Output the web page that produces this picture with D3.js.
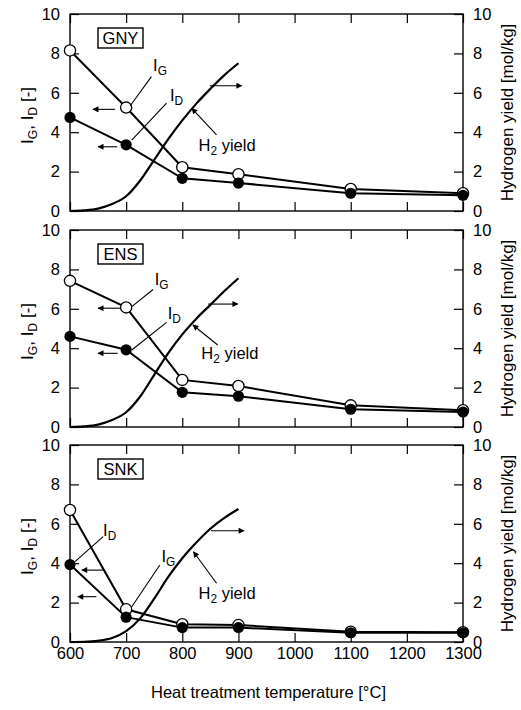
<!DOCTYPE html>
<html>
<head>
<meta charset="utf-8">
<script src="https://cdn.jsdelivr.net/npm/d3@7"></script>
<style>
  body { margin: 0; background: #fff; }
  svg { font-family: "Liberation Sans", Arial, sans-serif; }
  .tick text { font-size: 16.5px; fill: #000; }
  .domain { display: none; }
  .tick line { stroke: #000; stroke-width: 1.2; }
  .frame { fill: none; stroke: #000; stroke-width: 1.4; }
  .dataLine { fill: none; stroke: #000; stroke-width: 2; }
  .h2Line { fill: none; stroke: #000; stroke-width: 2.2; }
  .leader { stroke: #000; stroke-width: 1.1; fill: none; }
  .lbl { font-size: 16.5px; }
</style>
</head>
<body>
<div id="chart"></div>
<script>
const samples = ['GNY', 'ENS', 'SNK'];
const temps = [600, 700, 800, 900, 1100, 1300];

const igGNY = [8.15, 5.25, 2.22, 1.87, 1.12, 0.9];
const idGNY = [4.75, 3.36, 1.66, 1.42, 0.9, 0.8];
const igENS = [7.42, 6.07, 2.39, 2.08, 1.1, 0.85];
const idENS = [4.6, 3.92, 1.76, 1.56, 0.9, 0.76];
const igSNK = [6.7, 1.66, 0.9, 0.86, 0.52, 0.5];
const idSNK = [3.93, 1.26, 0.73, 0.73, 0.47, 0.47];

const h2Temps = [600, 625, 650, 675, 700, 725, 750, 775, 800, 825, 850, 875, 900];
const h2GNY = [0, 0.03, 0.12, 0.35, 0.75, 1.55, 2.6, 3.65, 4.6, 5.45, 6.2, 6.9, 7.5];
const h2ENS = [0, 0.03, 0.12, 0.35, 0.75, 1.55, 2.65, 3.75, 4.7, 5.5, 6.2, 6.9, 7.55];
const h2SNK = [0, 0.01, 0.06, 0.2, 0.55, 1.2, 2.2, 3.3, 4.25, 5.05, 5.75, 6.3, 6.75];

const xTicks = [600, 700, 800, 900, 1000, 1100, 1200, 1300];
const yTicks = [0, 2, 4, 6, 8, 10];

const igSeries = [igGNY, igENS, igSNK];
const idSeries = [idGNY, idENS, idSNK];
const h2Series = [h2GNY, h2ENS, h2SNK];

// annotation placement, in data units of each panel
const notes = [
  { arrows: [[680, 5.16, 641], [684, 3.26, 650]], h2Arrow: [849, 6.36, 906],
    ig: [748, 7.1], igLead: [745, 6.82, 707, 5.33],
    id: [778, 5.58], idLead: [772, 5.47, 710, 3.6],
    h2: [829, 3.06], h2Lead: [861, 3.86, 817, 5.21] },
  { arrows: [[689, 6.03, 650], [685, 3.74, 650]], h2Arrow: [846, 6.24, 899],
    ig: [751, 7.2], igLead: [748, 6.98, 710, 6.11],
    id: [774, 5.48], idLead: [772, 5.31, 710, 3.91],
    h2: [834, 3.45], h2Lead: [863, 4.16, 819, 5.18] },
  { arrows: [[662, 3.65, 621], [647, 2.3, 614]], h2Arrow: [851, 5.65, 910],
    ig: [763, 4.08], igLead: [760, 3.91, 710, 1.79],
    id: [659, 5.38], idLead: [659, 5.35, 609, 4.08],
    h2: [829, 2.18], h2Lead: [861, 2.98, 820, 4.58] }
];

const width = 521, height = 710;
const margin = ({left: 70, right: 58});
const panelTops = [14, 230, 445], panelH = 197;

let x = d3.scaleLinear().domain([600, 1300]).range([margin.left, width - margin.right]);

let svg = d3.select('#chart').append('svg')
  .attr('width', width).attr('height', height);

let defs = svg.append('defs');
defs.append('marker')
  .attr('id', 'head')
  .attr('viewBox', '0 0 10 10')
  .attr('refX', 9).attr('refY', 5)
  .attr('markerWidth', 10).attr('markerHeight', 6)
  .attr('markerUnits', 'userSpaceOnUse')
  .attr('orient', 'auto')
  .append('path').attr('d', 'M0,0 L10,5 L0,10 z').attr('fill', '#000');

function subText(sel, main, sub, rest) {
  sel.append('tspan').text(main);
  sel.append('tspan').attr('dy', 4).attr('font-size', '0.72em').text(sub);
  if (rest) sel.append('tspan').attr('dy', -4).text(rest);
}

samples.forEach((name, p) => {
  let top = panelTops[p];
  let y = d3.scaleLinear().domain([0, 10]).range([top + panelH, top]);
  let g = svg.append('g').attr('class', 'panel');
  let n = notes[p];

  // axes, ticks pointing in
  g.append('g')
    .attr('transform', `translate(${margin.left},0)`)
    .call(d3.axisLeft(y).tickValues(yTicks).tickSizeInner(-9).tickSizeOuter(0).tickPadding(10));
  g.append('g')
    .attr('transform', `translate(${width - margin.right},0)`)
    .call(d3.axisRight(y).tickValues(yTicks).tickSizeInner(-9).tickSizeOuter(0).tickPadding(10));
  g.append('g')
    .attr('transform', `translate(0,${top})`)
    .call(d3.axisTop(x).tickValues(xTicks).tickSizeInner(-9).tickSizeOuter(0).tickFormat(''));
  let bx = g.append('g')
    .attr('transform', `translate(0,${top + panelH})`)
    .call(d3.axisBottom(x).tickValues(xTicks).tickSizeInner(-9).tickSizeOuter(0)
      .tickPadding(5).tickFormat(d3.format('d')));
  if (p < 2) bx.selectAll('text').remove();

  g.append('rect').attr('class', 'frame')
    .attr('x', x(600)).attr('y', y(10))
    .attr('width', x(1300) - x(600)).attr('height', y(0) - y(10));

  // axis titles
  let lt = g.append('text')
    .attr('transform', `translate(27,${top + panelH / 2 + 3}) rotate(-90)`)
    .attr('text-anchor', 'middle').attr('dy', '0.35em')
    .style('font-size', '17px');
  lt.append('tspan').text('I');
  lt.append('tspan').attr('dy', 4).attr('font-size', '0.72em').text('G');
  lt.append('tspan').attr('dy', -4).text(', I');
  lt.append('tspan').attr('dy', 4).attr('font-size', '0.72em').text('D');
  lt.append('tspan').attr('dy', -4).text(' [-]');

  g.append('text')
    .attr('transform', `translate(507,${top + panelH / 2}) rotate(-90)`)
    .attr('text-anchor', 'middle').attr('dy', '0.35em')
    .style('font-size', '17px')
    .text('Hydrogen yield [mol/kg]');

  // sample name box
  let box = g.append('g').attr('transform', `translate(${x(600) + 28},${top + 14})`);
  box.append('rect').attr('width', 45).attr('height', 20)
    .attr('fill', '#fff').attr('stroke', '#000').attr('stroke-width', 1.4);
  box.append('text').attr('x', 22.5).attr('y', 16)
    .attr('text-anchor', 'middle').style('font-size', '16.5px').text(name);

  // hydrogen yield curve
  let h2 = h2Temps.map((t, i) => [t, h2Series[p][i]]);
  g.append('path').attr('class', 'h2Line')
    .datum(h2)
    .attr('d', d3.line().x(d => x(d[0])).y(d => y(d[1])).curve(d3.curveMonotoneX));

  let ig = temps.map((t, i) => [t, igSeries[p][i]]);
  let id = temps.map((t, i) => [t, idSeries[p][i]]);
  let line = d3.line().x(d => x(d[0])).y(d => y(d[1]));

  g.append('path').attr('class', 'dataLine').datum(ig).attr('d', line);
  g.append('path').attr('class', 'dataLine').datum(id).attr('d', line);

  g.selectAll('circle.ig').data(ig).enter().append('circle')
    .attr('class', 'ig')
    .attr('cx', d => x(d[0])).attr('cy', d => y(d[1])).attr('r', 5.6)
    .attr('fill', '#fff').attr('stroke', '#000').attr('stroke-width', 1.3);
  g.selectAll('circle.id').data(id).enter().append('circle')
    .attr('class', 'id')
    .attr('cx', d => x(d[0])).attr('cy', d => y(d[1])).attr('r', 5.6)
    .attr('fill', '#000');

  // arrows pointing at the axes
  n.arrows.forEach(a => {
    g.append('line').attr('class', 'leader')
      .attr('x1', x(a[0])).attr('y1', y(a[1]))
      .attr('x2', x(a[2])).attr('y2', y(a[1]))
      .attr('marker-end', 'url(#head)');
  });
  g.append('line').attr('class', 'leader')
    .attr('x1', x(n.h2Arrow[0])).attr('y1', y(n.h2Arrow[1]))
    .attr('x2', x(n.h2Arrow[2])).attr('y2', y(n.h2Arrow[1]))
    .attr('marker-end', 'url(#head)');

  // leader lines
  [n.igLead, n.idLead].forEach(l => {
    g.append('line').attr('class', 'leader')
      .attr('x1', x(l[0])).attr('y1', y(l[1]))
      .attr('x2', x(l[2])).attr('y2', y(l[3]));
  });
  g.append('line').attr('class', 'leader')
    .attr('x1', x(n.h2Lead[0])).attr('y1', y(n.h2Lead[1]))
    .attr('x2', x(n.h2Lead[2])).attr('y2', y(n.h2Lead[3]))
    .attr('marker-end', 'url(#head)');

  g.append('text').attr('class', 'lbl')
    .attr('x', x(n.ig[0])).attr('y', y(n.ig[1]))
    .call(subText, 'I', 'G');
  g.append('text').attr('class', 'lbl')
    .attr('x', x(n.id[0])).attr('y', y(n.id[1]))
    .call(subText, 'I', 'D');
  g.append('text').attr('class', 'lbl')
    .attr('x', x(n.h2[0])).attr('y', y(n.h2[1]))
    .call(subText, 'H', '2', ' yield');
});

svg.append('text')
  .attr('x', (x(600) + x(1300)) / 2 + 2).attr('y', 698)
  .attr('text-anchor', 'middle')
  .style('font-size', '16.5px')
  .text('Heat treatment temperature [°C]');
</script>
</body>
</html>
